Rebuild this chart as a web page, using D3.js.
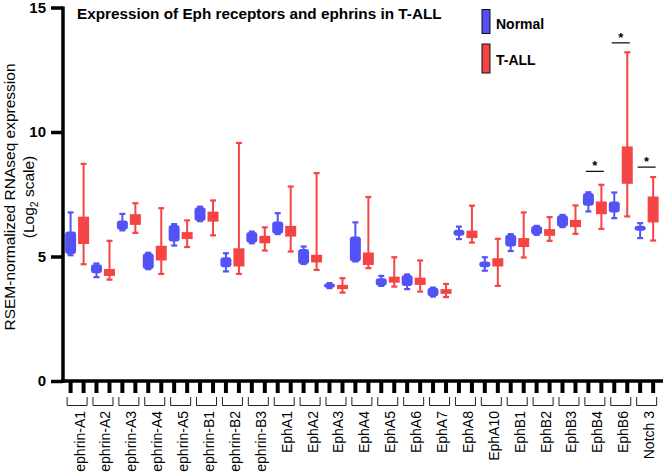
<!DOCTYPE html>
<html>
<head>
<meta charset="utf-8">
<script src="https://cdn.jsdelivr.net/npm/d3@7"></script>
<style>
  html, body { margin: 0; padding: 0; background: #fff; }
  svg { display: block; font-family: Arial, "Liberation Sans", sans-serif; }
</style>
</head>
<body>
<svg id="chart" width="666" height="475"></svg>
<script>
const categories = ["ephrin-A1","ephrin-A2","ephrin-A3","ephrin-A4","ephrin-A5","ephrin-B1","ephrin-B2","ephrin-B3",
  "EphA1","EphA2","EphA3","EphA4","EphA5","EphA6","EphA7","EphA8","EphA10",
  "EphB1","EphB2","EphB3","EphB4","EphB6","Notch 3"];

// Normal: whisker min, Q1, Q3, whisker max
const normalMin = [5.05,4.17,6.05,4.49,5.44,6.42,4.40,5.53,5.90,4.70,3.73,4.80,3.82,3.69,3.39,5.70,4.43,5.22,5.87,6.18,6.81,6.54,5.74];
const normalQ1  = [5.10,4.33,6.07,4.50,5.60,6.43,4.57,5.55,5.91,4.70,3.75,4.80,3.83,3.82,3.40,5.83,4.57,5.40,5.88,6.19,7.04,6.77,6.03];
const normalQ3  = [6.00,4.69,6.45,5.13,6.27,6.98,4.97,5.98,6.41,5.30,3.92,5.80,4.13,4.26,3.74,6.07,4.80,5.87,6.22,6.66,7.55,7.21,6.23];
const normalMax = [6.77,4.72,6.71,5.15,6.30,7.00,5.13,6.00,6.74,5.40,3.93,6.37,4.22,4.28,3.75,6.20,4.97,5.90,6.23,6.67,7.58,7.57,6.34];

// T-ALL: whisker min, Q1, Q3, whisker max
const tallMin = [4.69,4.07,5.95,4.30,5.38,5.85,4.30,5.24,5.20,4.46,3.55,4.53,3.79,3.59,3.37,5.56,3.82,4.96,5.63,5.91,6.11,6.61,5.64];
const tallQ1  = [5.50,4.22,6.27,4.84,5.70,6.40,4.60,5.53,5.80,4.76,3.69,4.66,3.95,3.86,3.50,5.74,4.60,5.38,5.83,6.18,6.70,7.92,6.37];
const tallQ3  = [6.60,4.50,6.70,5.43,5.98,6.80,5.33,5.83,6.23,5.07,3.86,5.16,4.19,4.15,3.69,6.04,4.93,5.74,6.10,6.47,7.21,9.42,7.41];
const tallMax = [8.72,5.63,7.14,6.94,6.45,7.25,9.56,6.17,7.81,8.35,4.13,7.39,4.97,4.84,3.90,7.04,5.71,6.77,6.58,7.05,7.88,13.20,8.19];

// significance bars
const sigCategories = ["EphB4","EphB6","Notch 3"];
const sigLevels = [8.42, 13.58, 8.59];

const yTicks = [0, 5, 10, 15];
const seriesNames = ["Normal", "T-ALL"];
const seriesColors = ["#5353f5", "#f54444"];

const svg = d3.select("#chart");

const x = d3.scaleBand().domain(categories).range([64.15, 659.6]).padding(0);
const y = d3.scaleLinear().domain([0, 15]).range([381, 7.5]);
const off = 6.5;
const boxW = 11;
const capW = 6;

function series(mins, q1s, q3s, maxs) {
  return categories.map((c, i) => ({cat: c, min: mins[i], q1: q1s[i], q3: q3s[i], max: maxs[i]}));
}
const data = [
  {name: seriesNames[0], color: seriesColors[0], dx: -off, rx: 3, rows: series(normalMin, normalQ1, normalQ3, normalMax)},
  {name: seriesNames[1], color: seriesColors[1], dx: off, rx: 0, rows: series(tallMin, tallQ1, tallQ3, tallMax)}
];
const cx = (cat, dx) => x(cat) + x.bandwidth() / 2 + dx;

// boxes
data.forEach(s => {
  const g = svg.append("g").attr("class", "series");
  const b = g.selectAll("g").data(s.rows).join("g");
  b.append("line")
    .attr("x1", d => cx(d.cat, s.dx)).attr("x2", d => cx(d.cat, s.dx))
    .attr("y1", d => y(d.min)).attr("y2", d => y(d.max))
    .attr("stroke", s.color).attr("stroke-width", 2);
  ["min", "max"].forEach(k => {
    b.append("line")
      .attr("x1", d => cx(d.cat, s.dx) - capW / 2).attr("x2", d => cx(d.cat, s.dx) + capW / 2)
      .attr("y1", d => y(d[k])).attr("y2", d => y(d[k]))
      .attr("stroke", s.color).attr("stroke-width", 2.2);
  });
  b.append("rect")
    .attr("x", d => cx(d.cat, s.dx) - boxW / 2).attr("width", boxW)
    .attr("y", d => y(d.q3)).attr("height", d => Math.max(1, y(d.q1) - y(d.q3)))
    .attr("rx", s.rx).attr("ry", s.rx)
    .attr("fill", s.color);
});

// y axis
const yAxis = svg.append("g").attr("transform", "translate(63,0)")
  .call(d3.axisLeft(y).tickValues(yTicks).tickSize(12).tickPadding(5).tickFormat(d3.format("d")));
yAxis.select(".domain").attr("stroke", "#000").attr("stroke-width", 3.5).attr("d", `M0,${y(15) - 1}V${y(0) + 2}`);
yAxis.selectAll(".tick line").attr("stroke", "#000").attr("stroke-width", 3.5);
yAxis.selectAll(".tick text").attr("font-size", 15).attr("font-weight", "bold").attr("fill", "#000")
  .attr("font-family", "Arial, 'Liberation Sans', sans-serif");

// x axis line
svg.append("line").attr("x1", 61).attr("x2", 663).attr("y1", y(0)).attr("y2", y(0))
  .attr("stroke", "#000").attr("stroke-width", 3.5);

// x ticks for each box
data.forEach(s => {
  svg.append("g").selectAll("line").data(categories).join("line")
    .attr("x1", c => cx(c, s.dx)).attr("x2", c => cx(c, s.dx))
    .attr("y1", y(0)).attr("y2", y(0) + 12)
    .attr("stroke", "#000").attr("stroke-width", 4);
});

// brackets
svg.append("g").selectAll("path").data(categories).join("path")
  .attr("d", c => {
    const m = x(c) + x.bandwidth() / 2;
    return `M${m - 10},397V405.5H${m + 10}V397`;
  })
  .attr("fill", "none").attr("stroke", "#222").attr("stroke-width", 1);

// category labels
svg.append("g").selectAll("text").data(categories).join("text")
  .attr("transform", c => `translate(${x(c) + x.bandwidth() / 2 + 2.5},411) rotate(-90)`)
  .attr("text-anchor", "end").attr("dy", "0.35em")
  .attr("font-size", 14).attr("fill", "#000")
  .text(c => c);

// y label
const yl = svg.append("g").attr("transform", "translate(0,197)");
yl.append("text").attr("transform", "translate(9.5,0) rotate(-90)")
  .attr("text-anchor", "middle").attr("dy", "0.35em").attr("font-size", 15.5).attr("fill", "#000")
  .text("RSEM-normalized RNAseq expression");
const t2 = yl.append("text").attr("transform", "translate(28.5,0) rotate(-90)")
  .attr("text-anchor", "middle").attr("dy", "0.35em").attr("font-size", 15.5).attr("fill", "#000");
t2.append("tspan").text("(Log");
t2.append("tspan").attr("font-size", 10.5).attr("dy", 4).text("2");
t2.append("tspan").attr("dy", -4).text(" scale)");

// title
svg.append("text").attr("x", 77).attr("y", 19).attr("font-size", 15.3).attr("font-weight", "bold")
  .attr("fill", "#000").text("Expression of Eph receptors and ephrins in T-ALL");

// legend
const legend = svg.append("g");
const legY = [9.5, 44];
seriesNames.forEach((n, i) => {
  legend.append("rect").attr("x", 482).attr("y", legY[i]).attr("width", 8).attr("height", i === 0 ? 24 : 29)
    .attr("fill", seriesColors[i]).attr("stroke", "#111").attr("stroke-width", 1);
  legend.append("text").attr("x", 496).attr("y", i === 0 ? 29 : 65).attr("font-size", 14).attr("font-weight", "bold")
    .attr("fill", "#000").text(n);
});

// significance markers
sigCategories.forEach((c, i) => {
  const m = x(c) + x.bandwidth() / 2;
  svg.append("line").attr("x1", m - 9).attr("x2", m + 9).attr("y1", y(sigLevels[i])).attr("y2", y(sigLevels[i]))
    .attr("stroke", "#000").attr("stroke-width", 1.2);
  svg.append("text").attr("x", m).attr("y", y(sigLevels[i]) - 1).attr("text-anchor", "middle")
    .attr("font-size", 13).attr("font-weight", "bold").attr("fill", "#000").text("*");
});
</script>
</body>
</html>
